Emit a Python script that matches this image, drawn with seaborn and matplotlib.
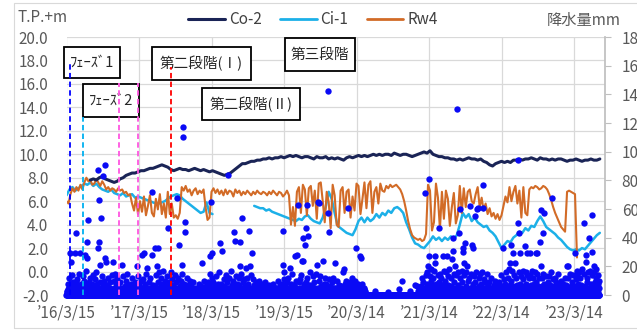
import numpy as np
import pandas as pd
import matplotlib.pyplot as plt
import seaborn as sns
from matplotlib.lines import Line2D
from matplotlib.patches import Rectangle

sns.set_theme(style="white")
plt.rcParams['font.family'] = ['Noto Sans CJK JP', 'DejaVu Sans']

start = pd.Timestamp('2016-03-15')

# water levels (T.P.+m), 15-day steps from 2016-03-15
co2 = [np.nan] * 8 + [
    7.8, 7.9, 7.8, 8.0, 8.1, 7.9, 7.8, 7.7, 7.6, 7.7, 7.9, 8.0,
    8.2, 8.3, 8.4, 8.4, 8.5, 8.6, 8.6, 8.7, 8.8, 8.8, 8.9, 9.0,
    9.1, 9.0, 8.9, 8.7, 8.6, 8.7, 8.8, 8.7, 8.7, 8.6, 8.7, 8.8,
    8.7, 8.6, 8.7, 8.6, 8.5, 8.6, 8.5, 8.4, 8.3, 8.2, 8.3, 8.4,
    8.6, 8.8, 9.0, 9.2, 9.2, 9.3, 9.4, 9.4, 9.5, 9.5, 9.6, 9.6,
    9.7, 9.6, 9.7, 9.7, 9.8, 9.7, 9.8, 9.9, 9.8, 9.9, 9.8, 9.7,
    9.8, 9.8, 9.7, 9.6, 9.8, 9.7, 9.7, 9.8, 9.6, 9.7, 9.6, 9.7,
    9.6, 9.5, 9.7, 9.8, 9.7, 9.8, 9.9, 9.8, 9.9, 9.8, 9.9, 10.0,
    9.9, 10.0, 9.9, 10.0, 10.0, 9.9, 10.1, 10.0, 9.9, 10.0, 10.0, 9.9,
    9.8, 9.9, 10.0, 10.1, 10.2, 10.1, 10.3, 10.0, 9.9, 9.8, 9.8, 9.7,
    9.7, 9.6, 9.6, 9.5, 9.6, 9.5, 9.6, 9.7, 9.6, 9.6, 9.5, 9.6,
    9.4, 9.3, 9.1, 9.0, 9.2, 9.3, 9.4, 9.3, 9.4, 9.3, 9.5, 9.5,
    9.6, 9.5, 9.6, 9.6, 9.7, 9.6, 9.5, 9.7, 9.6, 9.6, 9.5, 9.6,
    9.5, 9.6, 9.6, 9.5, 9.4, 9.5, 9.5, 9.6, 9.5, 9.4, 9.5, 9.5,
    9.6, 9.5, 9.5, 9.6,
]

ci1 = [
    6.5, 7.0, 7.2, 6.9, 7.1,
    7.3, 7.5, 7.4, 7.6, 7.3, 7.5, 7.2,
    7.0, 6.9, 6.8, 7.0, 6.7, 6.6,
    6.5, 6.7, 6.4, 6.5, 6.6, 6.3,
    6.4, 6.3, 6.2, 6.1,
    6.0, 5.9, 5.8, 5.8, 5.9, 6.0, 6.2, 6.4, 6.5,
    6.6, 6.5, 6.2, 6.0,
    5.8, 5.6, 5.4, 5.2, 5.0, 5.1,
    5.9, 5.0, 4.9,
] + [np.nan] * 13 + [
    5.6, 5.5, 5.4, 5.4, 5.2, 5.3, 5.1, 5.0, 4.9, 4.8,
    4.7, 4.6, 4.5, 4.4, 4.3, 4.5,
    4.4, 4.7, 4.8, 4.5, 4.3, 4.2, 4.1, 4.6, 5.5, 6.8,
    6.2, 5.0, 3.9, 3.7, 3.5, 3.3, 3.2, 3.1, 3.6, 4.3,
    4.6, 4.2, 4.6, 4.3, 4.5, 4.9, 4.6, 5.0, 4.8, 5.2,
    5.0, 5.4, 5.5, 5.3, 5.0, 4.2, 3.6, 2.9, 2.4, 2.3,
    2.1, 2.0, 2.3, 2.6, 3.0, 2.7, 2.9, 2.6, 2.9, 2.7,
    3.0, 2.8, 3.1, 4.0, 5.0, 4.6, 4.9, 4.3, 4.6, 4.2,
    4.0, 3.8, 3.9, 3.5, 3.3, 3.0, 2.5, 2.0, 2.3, 2.6,
    2.5, 2.9, 3.1, 3.4, 3.3, 3.7, 3.5, 3.9, 3.8, 4.3,
    4.7, 4.3, 3.8, 3.6, 3.4, 3.2, 2.9, 2.7, 2.4, 2.1,
    1.9, 1.8, 1.9, 1.8, 2.0, 1.9, 2.2, 2.5, 2.8, 3.1,
    3.3,
]

# Rw4, 10-day steps from 2016-03-15
rw4 = [
    6.0, 5.8, 6.6, 7.1, 6.8, 7.2, 6.9, 7.4, 7.0, 7.6,
    8.0, 7.7, 7.8, 7.4, 7.5, 7.9, 7.6, 7.3, 7.7, 7.4,
    7.0, 7.2, 6.9, 7.1, 7.0, 6.8, 7.1, 6.9, 7.0, 6.7,
    6.8, 6.5, 6.6, 5.8, 5.2, 6.3, 4.9, 6.0, 5.1, 6.4,
    4.8, 5.6, 6.5, 5.0, 4.7, 6.2, 5.3, 6.6, 4.9, 5.8,
    4.6, 6.8, 4.9, 5.8, 4.6, 4.8, 4.5, 5.0, 7.2, 6.9,
    7.3, 6.8, 7.0, 6.5, 6.9, 7.1, 6.6, 6.9, 6.7, 7.0,
    5.5, 4.4, 4.6, 6.8, 7.1, 6.7, 7.0, 6.6, 6.9, 6.5,
    7.0, 6.6, 6.9, 6.8, 6.4, 7.0, 6.7, 6.9, 6.5, 6.8,
    6.6, 6.9, 6.7, 6.5, 6.8, 6.6, 6.9, 6.7, 6.6, 6.8,
    6.7, 6.5, 6.8, 6.6, 6.9, 6.7, 6.5, 6.8, 6.7, 6.4,
    6.6, 6.9, 6.5, 4.0, 5.5, 3.9, 6.8, 7.2, 5.0, 7.4,
    7.0, 4.8, 7.1, 7.3, 5.6, 6.9, 4.5, 7.5, 7.6, 6.0,
    4.2, 6.8, 5.9, 3.7, 7.4, 6.5, 4.0, 3.8, 6.9, 7.2,
    5.0, 6.8, 7.0, 4.6, 6.4, 5.2, 7.5, 7.3, 4.9, 6.2,
    7.6, 5.4, 7.4, 7.7, 5.0, 6.8, 7.2, 5.8, 7.5, 6.9,
    6.8, 7.3, 7.1, 7.4, 7.2, 7.3, 7.4, 7.2, 7.0, 6.6,
    6.0, 5.2, 4.3, 3.6, 3.1, 2.9, 2.8, 2.7, 2.8, 2.6,
    2.7, 3.2, 7.4, 6.9, 3.5, 4.2, 7.5, 6.3, 3.6, 6.8,
    4.5, 6.9, 6.2, 3.9, 5.5, 6.7, 4.1, 4.8, 7.3, 5.0,
    7.1, 5.5, 6.8, 7.0, 6.0, 5.8, 6.6, 7.2, 5.5, 6.3,
    5.2, 5.8, 4.9, 5.4, 4.7, 5.0, 4.5, 4.9, 4.4, 4.8,
    5.6, 6.4, 5.9, 7.2, 6.0, 6.8, 7.3, 5.8, 6.9, 4.6,
    7.2, 5.0, 4.8, 7.0, 7.2, 7.1, 7.3, 7.2, 7.0, 7.1,
    7.3, 7.2, 7.0, 6.6, 6.1, 5.5, 5.0, 4.6, 4.2, 3.8,
    3.6, 3.4, 6.8, 6.9, 6.8, 6.7, 6.6, 1.2,
]

# daily precipitation (mm): larger events
rain_dates = [
    '2016-04-02', '2016-04-06', '2016-04-26', '2016-05-01', '2016-05-03', '2016-05-22',
    '2016-06-06', '2016-06-16', '2016-06-25', '2016-06-26', '2016-07-01', '2016-08-21',
    '2016-08-23', '2016-08-26', '2016-08-28', '2016-08-31', '2016-09-05', '2016-09-15',
    '2016-09-25', '2016-09-27', '2016-09-30', '2016-11-04', '2016-11-14', '2016-12-19',
    '2017-01-14', '2017-03-05', '2017-03-30', '2017-04-09', '2017-04-24', '2017-05-19',
    '2017-05-20', '2017-06-04', '2017-06-14', '2017-06-19', '2017-08-08', '2017-09-22',
    '2017-10-02', '2017-10-17', '2017-10-19', '2017-10-23', '2017-10-25', '2017-11-02',
    '2017-11-04', '2018-01-26', '2018-03-07', '2018-03-09', '2018-03-12', '2018-03-18',
    '2018-04-27', '2018-05-07', '2018-06-06', '2018-07-06', '2018-07-11', '2018-08-05',
    '2018-08-07', '2018-08-16', '2018-09-05', '2018-09-20', '2018-09-25', '2018-10-05',
    '2019-03-10', '2019-03-12', '2019-03-14', '2019-04-14', '2019-05-09', '2019-05-19',
    '2019-05-24', '2019-06-13', '2019-06-18', '2019-06-20', '2019-06-29', '2019-07-04',
    '2019-07-09', '2019-07-14', '2019-08-28', '2019-09-02', '2019-09-07', '2019-09-27',
    '2019-10-22', '2019-10-24', '2019-10-27', '2019-11-26', '2020-01-06', '2020-01-11',
    '2020-01-31', '2020-02-20', '2020-03-11', '2020-03-31', '2020-04-05', '2020-10-29',
    '2021-01-02', '2021-01-12', '2021-02-21', '2021-03-09', '2021-03-12', '2021-03-14',
    '2021-04-13', '2021-04-15', '2021-05-03', '2021-05-23', '2021-06-12', '2021-07-07',
    '2021-07-12', '2021-07-14', '2021-07-22', '2021-08-02', '2021-08-12', '2021-08-17',
    '2021-09-01', '2021-09-03', '2021-09-06', '2021-09-11', '2021-09-21', '2021-10-06',
    '2021-10-16', '2021-10-21', '2021-10-31', '2021-11-10', '2021-11-15', '2021-12-05',
    '2021-12-10', '2021-12-12', '2021-12-30', '2022-03-21', '2022-04-25', '2022-04-30',
    '2022-05-10', '2022-05-20', '2022-06-04', '2022-06-06', '2022-06-08', '2022-06-14',
    '2022-07-09', '2022-07-19', '2022-08-03', '2022-09-02', '2022-09-07', '2022-09-23',
    '2022-09-28', '2022-09-30', '2022-10-08', '2022-10-13', '2022-11-22', '2022-12-22',
    '2023-02-05', '2023-02-10', '2023-03-18', '2023-03-28', '2023-05-02', '2023-05-12',
    '2023-05-14', '2023-05-27', '2023-06-11', '2023-06-13', '2023-06-21',
]
rain_mm = [
    29, 23, 29, 43, 9, 29,
    13, 28, 37, 26, 52, 87,
    33, 66, 37, 21, 54, 83,
    91, 26, 23, 23, 15, 21,
    15, 20, 28, 29, 19, 28,
    72, 33, 20, 33, 47, 68,
    35, 21, 15, 117, 110, 51,
    44, 22, 27, 15, 65, 29,
    36, 31, 84, 44, 38, 37,
    20, 54, 19, 45, 20, 29,
    45, 21, 16, 19, 27, 28,
    63, 24, 40, 24, 35, 47,
    63, 41, 21, 65, 64, 24,
    142, 57, 44, 22, 16, 18,
    61, 12, 33, 27, 26, 10,
    7, 6, 71, 20, 81, 27,
    27, 22, 47, 27, 27, 25,
    31, 40, 20, 130, 43, 60,
    33, 30, 22, 36, 20, 62,
    35, 33, 55, 60, 61, 16,
    77, 61, 15, 33, 22, 35,
    29, 22, 94, 50, 43, 29,
    34, 29, 29, 29, 29, 37,
    59, 20, 43, 57, 68, 15,
    20, 20, 29, 15, 50, 28,
    23, 40, 56, 30, 20,
]

# small daily rainfalls, "month day:mm"
small_rain = """
2016-03 18:3 21:8 24:2 28:12 30:5
2016-04 04:6 09:2 11:14 15:4 19:9 23:3 28:7
2016-05 05:4 08:11 12:2 16:6 19:15 25:3 29:8
2016-06 02:5 09:10 11:3 14:7 20:2 22:17 29:6
2016-07 04:9 07:3 11:12 15:5 19:2 23:8 27:14 30:4
2016-08 02:6 05:11 09:3 12:16 15:5 18:8 30:2
2016-09 02:9 08:4 10:13 13:6 18:3 21:10 23:5
2016-10 03:7 07:2 11:12 15:5 19:9 24:3 29:14
2016-11 02:4 07:10 10:3 17:8 21:2 25:12 29:6
2016-12 03:5 08:2 11:9 15:4 23:13 27:3
2017-01 03:6 08:3 11:10 18:2 22:7 27:4
2017-02 02:8 06:3 10:12 14:5 18:2 22:9 26:4
2017-03 02:6 08:13 11:3 15:7 19:2 24:10 28:5
2017-04 03:4 06:11 13:3 16:8 20:15 27:5
2017-05 02:9 06:3 10:12 14:5 24:7 28:2
2017-06 02:6 08:14 11:4 17:9 22:3 26:16 29:5
2017-07 03:8 06:12 10:4 14:17 18:6 22:3 26:10 30:5
2017-08 02:6 05:13 11:3 14:9 18:5 22:16 26:4 30:11
2017-09 03:7 07:3 11:14 15:5 18:9 26:4 29:12
2017-10 05:6 09:3 13:10 21:4 28:8
2017-11 07:5 10:12 14:3 18:7 22:2 26:10 29:4
2017-12 02:6 07:3 11:9 16:2 21:5 27:3
2018-01 03:4 08:2 12:8 17:3 21:6 29:3
2018-02 02:5 07:10 11:3 15:6 19:2 23:9 27:4
2018-03 02:7 05:3 15:12 21:5 25:9 29:3
2018-04 03:6 07:13 11:4 15:8 19:3 23:16 30:5
2018-05 03:8 11:4 15:11 19:6 23:3 27:14 30:5
2018-06 02:9 09:4 13:12 16:5 20:17 24:7 28:3
2018-07 02:10 09:5 14:13 18:4 22:8 26:3 30:12
2018-08 02:7 10:15 13:4 20:9 24:3 28:11
2018-09 02:6 09:12 13:3 16:8 23:5 28:14
2018-10 02:4 08:11 12:3 16:7 20:2 24:9 29:5
2018-11 02:6 06:3 10:10 15:4 19:8 24:2 28:6
2018-12 03:4 08:9 13:2 18:6 23:3 28:7
2019-01 03:3 09:6 14:2 20:8 26:4
2019-02 02:5 07:2 11:10 16:4 21:7 25:3
2019-03 03:8 07:4 17:11 21:6 25:3 29:9
2019-04 02:5 06:12 10:3 18:8 22:4 26:15 30:6
2019-05 02:7 06:3 13:10 16:5 27:9 30:4
2019-06 02:11 06:5 09:14 16:3 23:8 26:6
2019-07 02:9 07:5 11:12 18:4 22:16 26:7 30:3
2019-08 03:6 07:13 11:4 15:9 19:3 23:15 31:5
2019-09 05:10 10:4 14:13 18:6 22:3 30:8
2019-10 02:5 06:12 10:3 14:8 18:4 29:11
2019-11 02:6 06:3 10:9 14:4 18:12 22:5 30:3
2019-12 03:5 08:10 13:3 18:7 23:2 28:6
2020-01 02:3 14:8 19:4 23:10 27:3
2020-02 02:6 06:3 10:9 14:4 24:7 28:3
2020-03 02:5 06:10 15:4 19:8 23:3 27:6
2020-04 09:4 13:8 17:3 21:5 26:2
2020-06 14:3
2020-08 20:2
2020-10 12:4
2020-12 06:3
2021-01 20:3 27:5
2021-02 01:6 05:12 09:4 13:9 17:3 25:14
2021-03 02:8 05:16 18:13 22:10 26:18 30:7
2021-04 03:12 07:5 10:17 18:8 22:4 27:14
2021-05 01:9 07:15 11:6 15:12 19:4 27:17 30:8
2021-06 03:10 06:16 09:5 16:13 20:7 24:18 28:4
2021-07 01:12 04:6 17:15 19:9 26:14 29:5
2021-08 05:16 08:7 15:12 21:5 25:17 28:9
2021-09 08:14 14:6 17:16 25:10 28:4
2021-10 02:12 09:5 12:15 19:8 25:13 28:4
2021-11 03:9 06:16 13:5 19:12 22:6 26:15 29:3
2021-12 02:8 07:4 15:11 19:5 23:9 27:3
2022-01 03:6 08:2 12:9 17:4 22:12 27:3
2022-02 02:7 06:3 11:10 15:4 19:8 24:3 27:6
2022-03 03:9 07:4 11:14 15:6 25:11 29:5
2022-04 02:8 06:16 10:5 14:12 18:4 22:18 28:7
2022-05 03:10 06:17 13:6 16:14 24:5 28:12
2022-06 02:7 10:16 17:8 21:13 25:5 29:17
2022-07 02:11 05:6 13:16 16:8 22:14 26:5 30:12
2022-08 06:14 09:7 13:17 17:5 21:12 25:8 29:16
2022-09 04:9 11:15 14:6 18:12 26:5
2022-10 02:12 05:6 11:15 16:8 20:4 24:13 29:7
2022-11 02:9 06:4 10:13 14:7 18:16 26:5 29:11
2022-12 02:6 07:12 11:4 15:9 19:3 26:7
2023-01 03:5 08:10 12:3 17:8 22:4 27:12
2023-02 02:7 07:3 14:12 18:5 22:15 26:6
2023-03 02:9 06:4 10:14 14:6 22:11 26:5 31:17
2023-04 03:8 07:16 11:5 15:12 19:7 23:18 27:4
2023-05 04:15 07:6 17:12 20:9 24:16 30:5
2023-06 03:17 07:8 15:14 18:6 24:16 28:9
2023-07 01:12 04:18 08:6 11:14 15:8 19:10
"""

# light drizzle days (1-5 mm)
tiny_rain = """
2016-03 16:2 20:1 23:4 26:1 31:3
2016-04 01:2 05:4 08:1 14:3 20:2 25:5 30:1
2016-05 02:3 07:1 10:5 14:2 21:4 27:1 31:2
2016-06 01:4 04:2 08:1 13:5 18:3 24:1 28:2
2016-07 02:1 06:4 09:2 13:3 17:1 21:5 25:2 29:3
2016-08 01:4 04:2 07:5 11:1 14:3 17:2 20:4 25:1
2016-09 01:3 04:5 07:2 12:1 16:4 20:2 24:3 29:1
2016-10 01:2 05:4 09:1 13:3 17:2 21:5 26:1 31:3
2016-11 01:2 05:1 09:4 12:2 15:5 19:1 23:3 27:2
2016-12 01:3 05:1 10:4 13:2 17:1 20:5 25:2 30:1
2017-01 01:2 05:4 10:1 14:3 16:2 20:5 25:1 30:3
2017-02 01:1 04:4 08:2 12:1 16:3 20:5 24:2 28:1
2017-03 01:3 04:1 06:4 10:2 13:5 17:1 22:3 26:2
2017-04 01:2 05:5 08:1 11:3 15:2 18:4 23:1 29:3
2017-05 01:4 04:2 08:1 12:5 16:3 18:1 22:2 26:4
2017-06 01:3 05:1 07:4 10:2 13:5 16:1 20:3 24:2
2017-07 01:2 05:4 08:1 12:3 16:2 20:5 24:1 28:3
2017-08 01:4 04:2 07:1 10:5 13:2 16:3 20:1 24:4
2017-09 01:2 05:5 09:1 13:3 16:2 20:4 24:1 28:3
2017-10 01:3 03:1 07:4 11:2 15:5 26:1 30:3
2017-11 01:2 05:4 08:1 12:3 16:2 20:5 24:1 28:2
2017-12 01:3 05:1 09:4 13:2 18:1 23:3 29:2
2018-01 01:2 05:4 10:1 14:3 19:2 24:5 27:1
2018-02 01:3 05:1 09:4 13:2 17:5 21:1 25:3
2018-03 01:2 04:4 10:1 14:3 17:2 20:5 23:1 27:3
2018-04 01:4 05:2 09:1 13:5 17:2 21:1 25:4 28:2
2018-05 01:2 05:5 09:1 13:3 17:2 21:4 25:1 29:3
2018-06 01:3 04:5 07:1 11:2 15:4 18:1 22:3 26:2
2018-07 01:4 04:1 07:3 12:2 16:5 20:1 24:3 28:2
2018-08 01:3 04:1 08:4 12:2 15:5 18:1 22:3 26:2
2018-09 01:2 04:4 07:1 11:3 15:2 18:5 22:1 27:3
2018-10 01:3 04:1 10:4 14:2 18:5 22:1 26:3 31:2
2018-11 01:2 04:5 08:1 12:3 17:2 21:4 26:1 30:2
2018-12 01:3 05:1 10:4 15:2 20:5 25:1 30:3
2019-01 01:2 06:4 11:1 16:3 22:2 28:5
2019-02 01:3 04:1 09:4 13:2 18:5 23:1 27:2
2019-03 01:2 05:5 09:1 15:3 19:2 23:4 27:1 31:3
2019-04 01:4 04:2 08:1 12:5 16:3 20:1 24:2 28:4
2019-05 01:3 04:1 08:4 11:2 15:5 21:1 25:3 29:2
2019-06 01:2 04:4 08:1 11:3 15:2 21:5 25:1 28:3
2019-07 01:4 05:2 09:1 13:5 16:3 20:1 24:2 28:4
2019-08 01:3 05:1 09:4 13:2 17:5 21:1 25:3 29:2
2019-09 01:2 03:4 08:1 12:3 16:2 20:5 24:1 28:3
2019-10 01:4 04:2 08:1 12:5 16:3 20:1 25:2 31:4
2019-11 01:3 04:1 08:4 12:2 16:5 20:1 24:3 28:2
2019-12 01:2 05:4 10:1 15:3 20:2 25:5 30:1
2020-01 01:3 04:1 08:4 12:2 16:5 21:1 25:3 29:2
2020-02 01:2 04:4 08:1 12:3 16:2 18:5 22:1 26:3
2020-03 01:3 04:1 08:4 12:2 17:5 21:1 25:3 29:2
2020-04 01:2 04:4 07:1 11:3 15:2 19:1 23:4 28:3
2021-02 03:2 07:4 11:1 15:5 19:3 23:1 27:2
2021-03 01:3 04:1 07:5 11:2 15:4 20:1 24:3 28:2
2021-04 01:4 05:2 09:1 12:5 16:3 20:1 24:2 29:4
2021-05 02:3 05:1 09:4 13:2 17:5 21:1 25:3 29:2
2021-06 01:2 04:5 07:1 11:3 14:2 18:4 22:1 26:3
2021-07 02:4 06:2 09:1 11:5 15:3 20:1 24:2 28:4
2021-08 01:3 03:1 07:4 10:2 13:5 19:1 23:3 27:2
2021-09 02:2 05:4 09:1 13:3 16:2 19:5 23:1 27:3
2021-10 01:4 04:2 07:1 11:5 14:3 17:1 23:2 27:4
2021-11 01:3 04:1 08:4 11:2 14:5 17:1 21:3 25:2
2021-12 01:2 04:4 08:1 13:3 17:2 21:5 25:1 29:3
2022-01 01:3 05:1 10:4 14:2 19:5 24:1 29:2
2022-02 01:2 04:4 08:1 13:3 17:2 21:5 25:1 28:3
2022-03 01:4 05:2 09:1 13:5 17:3 19:1 23:2 27:4
2022-04 01:3 04:1 08:4 12:2 16:5 20:1 24:3 26:2
2022-05 01:2 04:4 08:1 11:3 14:2 18:5 22:1 26:3
2022-06 01:4 03:2 07:1 12:5 15:3 19:1 23:2 27:4
2022-07 01:3 04:1 07:4 11:2 14:5 18:1 20:3 24:2
2022-08 01:2 04:4 08:1 11:3 15:2 19:5 23:1 27:3
2022-09 01:4 05:2 09:1 13:5 16:3 20:1 22:2 25:4
2022-10 01:3 04:1 07:4 10:2 14:5 18:1 22:3 27:2
2022-11 01:2 04:4 08:1 12:3 16:2 20:5 24:1 28:3
2022-12 01:4 04:2 09:1 13:5 17:3 21:1 24:2 29:4
2023-01 01:3 05:1 10:4 14:2 19:5 24:1 29:2
2023-02 01:2 04:4 09:1 12:3 16:2 20:5 24:1 28:3
2023-03 01:4 04:2 08:1 12:5 16:3 20:1 24:2 29:4
2023-04 01:3 05:1 09:4 13:2 17:5 21:1 25:3 29:2
2023-05 01:2 03:4 06:1 09:3 13:2 16:5 22:1 26:3
2023-06 01:4 05:2 09:1 12:5 16:3 20:1 22:2 26:4
2023-07 02:3 06:1 10:4 13:2 17:5
"""

phase_dates = ['2016-04-02', '2016-06-06', '2016-12-04', '2017-03-10', '2017-08-23']
phase_colors = ['#0000ff', '#00b0f0', '#ff55e0', '#ff55e0', '#ff0000']

tick_labels = ["’16/3/15", "’17/3/15", "’18/3/15", "’19/3/15",
               "’20/3/14", "’21/3/14", "’22/3/14", "’23/3/14"]

# ---- build frames
dates15 = pd.date_range(start, periods=len(co2), freq='15D')
lev = pd.DataFrame({'date': dates15, 'Co-2': co2, 'Ci-1': ci1})
lev['seg'] = lev['Ci-1'].isna().cumsum()
rw = pd.DataFrame({'date': pd.date_range(start, periods=len(rw4), freq='10D'), 'Rw4': rw4})

rain = pd.Series(0.0, index=pd.date_range(start, '2023-07-20', freq='D'))
for block in (tiny_rain, small_rain):
    for line in block.strip().splitlines():
        month, *items = line.split()
        for it in items:
            d, v = it.split(':')
            rain[pd.Timestamp(f"{month}-{d}")] = float(v)
for d, v in zip(rain_dates, rain_mm):
    rain[pd.Timestamp(d)] = v
rain_df = pd.DataFrame({'date': rain.index, 'mm': rain.values})

c_co2, c_ci1, c_rw4 = '#1a2456', '#1cb0e8', '#d26b27'
grey = '#595959'

fig = plt.figure(figsize=(6.37, 3.31), dpi=100)
ax = fig.add_axes([66.5 / 637, 36 / 331, 538.5 / 637, 258 / 331])

sns.lineplot(data=lev.dropna(subset=['Ci-1']), x='date', y='Ci-1', units='seg',
             estimator=None, color=c_ci1, lw=1.8, ax=ax, legend=False)
sns.lineplot(data=rw, x='date', y='Rw4', estimator=None, color=c_rw4, lw=1.5, ax=ax, legend=False)
sns.lineplot(data=lev.dropna(subset=['Co-2']), x='date', y='Co-2', estimator=None,
             color=c_co2, lw=2.2, ax=ax, legend=False)

tick_dates = [start + pd.Timedelta(days=365 * k) for k in range(len(tick_labels))]
ax.set_xlim(start, start + pd.Timedelta(days=2711))
ax.set_ylim(-2, 20)
ax.set_yticks(np.arange(-2, 20.1, 2))
ax.set_yticklabels([f"{v:.1f}" for v in np.arange(-2, 20.1, 2)])
ax.set_xticks(tick_dates)
ax.set_xticklabels(tick_labels)
ax.set_xlabel('')
ax.set_ylabel('')
ax.grid(True, color='#d9d9d9', lw=0.9)
ax.set_axisbelow(True)
ax.tick_params(axis='x', length=0, pad=7, labelsize=11, labelcolor=grey)
ax.tick_params(axis='y', length=0, pad=13, labelsize=11, labelcolor=grey)
for s in ax.spines.values():
    s.set_visible(False)

ax2 = ax.twinx()
sns.scatterplot(data=rain_df, x='date', y='mm', ax=ax2, s=21, color='#0a0af5',
                linewidth=0, clip_on=False, zorder=2, legend=False)
ax2.set_ylim(0, 180)
ax2.set_yticks(range(0, 181, 20))
ax2.set_ylabel('')
ax2.tick_params(axis='y', direction='out', length=4, width=0.8, color='#bfbfbf',
                labelcolor=grey, labelsize=11, pad=8)
for k, s in ax2.spines.items():
    s.set_visible(k == 'right')
ax2.spines['right'].set_color('#bfbfbf')

# phase boxes (figure pixels: x0, y0, x1, y1 from top-left)
boxes = [((64, 47, 120, 78), 'ﾌｪｰｽﾞ1'),
         ((83, 84, 139, 117), 'ﾌｪｰｽﾞ2'),
         ((152, 47, 251, 80), '第二段階(Ⅰ)'),
         ((285, 38, 355, 71), '第三段階'),
         ((202, 88, 300, 120), '第二段階(Ⅱ)')]
for (x0, y0, x1, y1), txt in boxes:
    ax2.add_patch(Rectangle((x0 / 637, 1 - y1 / 331), (x1 - x0) / 637, (y1 - y0) / 331,
                            transform=fig.transFigure, facecolor='white', edgecolor='black',
                            lw=1.3, clip_on=False, zorder=4))
    ax2.text((x0 + x1) / 2 / 637, 1 - (y0 + y1) / 2 / 331, txt, transform=fig.transFigure,
             ha='center', va='center', fontsize=10.5, color='#262626', zorder=4.5)

# dashed phase lines, tops in T.P.+m converted to mm axis
tops = [17.9, 13.2, 16.1, 16.1, 17.4]
ax2.vlines(pd.to_datetime(phase_dates), 0, [(t + 2) * 180 / 22 for t in tops],
           colors=phase_colors, linestyles=(0, (3, 1.8)), linewidth=1.3, zorder=5)

fig.text(17 / 637, 1 - 18 / 331, 'T.P.+m', ha='left', va='center', fontsize=11, color=grey)
fig.text(621 / 637, 1 - 20 / 331, '降水量mm', ha='right', va='center', fontsize=11, color=grey)

handles = [Line2D([], [], color=c_co2, lw=2.2), Line2D([], [], color=c_ci1, lw=2.0),
           Line2D([], [], color=c_rw4, lw=2.0)]
fig.legend(handles, ['Co-2', 'Ci-1', 'Rw4'], loc='center', bbox_to_anchor=(313 / 637, 1 - 20 / 331),
           ncol=3, frameon=False, fontsize=11, handlelength=2.4, handletextpad=0.25,
           columnspacing=1.2, labelcolor='#404040')

fig.add_artist(Rectangle((14 / 637, 3 / 331), 1, 325 / 331, transform=fig.transFigure,
                         fill=False, edgecolor='#d9d9d9', lw=0.8))

fig.savefig('out.png', dpi=100)
